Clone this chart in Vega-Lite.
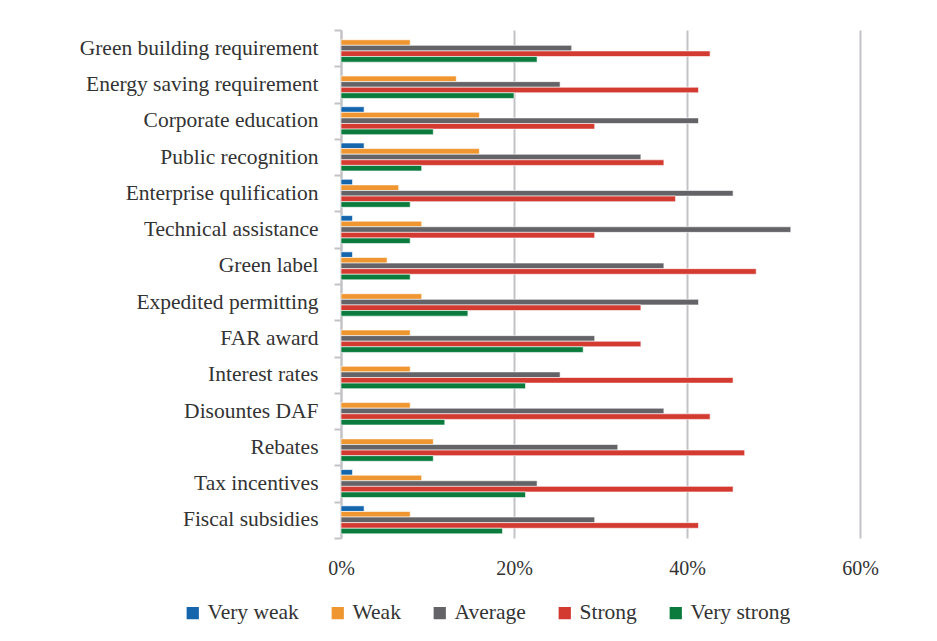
{
  "$schema": "https://vega.github.io/schema/vega-lite/v6.json",
  "autosize": "none",
  "width": 519,
  "height": 508,
  "padding": {"left": 341, "top": 30, "right": 77, "bottom": 103},
  "background": "white",
  "config": {
    "font": "Liberation Serif",
    "view": {"stroke": null},
    "axis": {"labelFont": "Liberation Serif", "labelColor": "#333333", "labelFontSize": 20},
    "legend": {"labelFont": "Liberation Serif", "labelColor": "#333333", "labelFontSize": 21.5}
  },
  "data": {
    "values": [
      {"item": "Green building requirement", "level": "Weak", "value": 8},
      {"item": "Green building requirement", "level": "Average", "value": 26.67},
      {"item": "Green building requirement", "level": "Strong", "value": 42.67},
      {"item": "Green building requirement", "level": "Very strong", "value": 22.67},
      {"item": "Energy saving requirement", "level": "Weak", "value": 13.33},
      {"item": "Energy saving requirement", "level": "Average", "value": 25.33},
      {"item": "Energy saving requirement", "level": "Strong", "value": 41.33},
      {"item": "Energy saving requirement", "level": "Very strong", "value": 20},
      {"item": "Corporate education", "level": "Very weak", "value": 2.67},
      {"item": "Corporate education", "level": "Weak", "value": 16},
      {"item": "Corporate education", "level": "Average", "value": 41.33},
      {"item": "Corporate education", "level": "Strong", "value": 29.33},
      {"item": "Corporate education", "level": "Very strong", "value": 10.67},
      {"item": "Public recognition", "level": "Very weak", "value": 2.67},
      {"item": "Public recognition", "level": "Weak", "value": 16},
      {"item": "Public recognition", "level": "Average", "value": 34.67},
      {"item": "Public recognition", "level": "Strong", "value": 37.33},
      {"item": "Public recognition", "level": "Very strong", "value": 9.33},
      {"item": "Enterprise qulification", "level": "Very weak", "value": 1.33},
      {"item": "Enterprise qulification", "level": "Weak", "value": 6.67},
      {"item": "Enterprise qulification", "level": "Average", "value": 45.33},
      {"item": "Enterprise qulification", "level": "Strong", "value": 38.67},
      {"item": "Enterprise qulification", "level": "Very strong", "value": 8},
      {"item": "Technical assistance", "level": "Very weak", "value": 1.33},
      {"item": "Technical assistance", "level": "Weak", "value": 9.33},
      {"item": "Technical assistance", "level": "Average", "value": 52},
      {"item": "Technical assistance", "level": "Strong", "value": 29.33},
      {"item": "Technical assistance", "level": "Very strong", "value": 8},
      {"item": "Green label", "level": "Very weak", "value": 1.33},
      {"item": "Green label", "level": "Weak", "value": 5.33},
      {"item": "Green label", "level": "Average", "value": 37.33},
      {"item": "Green label", "level": "Strong", "value": 48},
      {"item": "Green label", "level": "Very strong", "value": 8},
      {"item": "Expedited permitting", "level": "Weak", "value": 9.33},
      {"item": "Expedited permitting", "level": "Average", "value": 41.33},
      {"item": "Expedited permitting", "level": "Strong", "value": 34.67},
      {"item": "Expedited permitting", "level": "Very strong", "value": 14.67},
      {"item": "FAR award", "level": "Weak", "value": 8},
      {"item": "FAR award", "level": "Average", "value": 29.33},
      {"item": "FAR award", "level": "Strong", "value": 34.67},
      {"item": "FAR award", "level": "Very strong", "value": 28},
      {"item": "Interest rates", "level": "Weak", "value": 8},
      {"item": "Interest rates", "level": "Average", "value": 25.33},
      {"item": "Interest rates", "level": "Strong", "value": 45.33},
      {"item": "Interest rates", "level": "Very strong", "value": 21.33},
      {"item": "Disountes DAF", "level": "Weak", "value": 8},
      {"item": "Disountes DAF", "level": "Average", "value": 37.33},
      {"item": "Disountes DAF", "level": "Strong", "value": 42.67},
      {"item": "Disountes DAF", "level": "Very strong", "value": 12},
      {"item": "Rebates", "level": "Weak", "value": 10.67},
      {"item": "Rebates", "level": "Average", "value": 32},
      {"item": "Rebates", "level": "Strong", "value": 46.67},
      {"item": "Rebates", "level": "Very strong", "value": 10.67},
      {"item": "Tax incentives", "level": "Very weak", "value": 1.33},
      {"item": "Tax incentives", "level": "Weak", "value": 9.33},
      {"item": "Tax incentives", "level": "Average", "value": 22.67},
      {"item": "Tax incentives", "level": "Strong", "value": 45.33},
      {"item": "Tax incentives", "level": "Very strong", "value": 21.33},
      {"item": "Fiscal subsidies", "level": "Very weak", "value": 2.67},
      {"item": "Fiscal subsidies", "level": "Weak", "value": 8},
      {"item": "Fiscal subsidies", "level": "Average", "value": 29.33},
      {"item": "Fiscal subsidies", "level": "Strong", "value": 41.33},
      {"item": "Fiscal subsidies", "level": "Very strong", "value": 18.67}
    ]
  },
  "mark": {"type": "bar", "stroke": "white", "strokeWidth": 0.6},
  "encoding": {
    "y": {
      "field": "item",
      "type": "nominal",
      "sort": ["Green building requirement", "Energy saving requirement", "Corporate education", "Public recognition", "Enterprise qulification", "Technical assistance", "Green label", "Expedited permitting", "FAR award", "Interest rates", "Disountes DAF", "Rebates", "Tax incentives", "Fiscal subsidies"],
      "scale": {"paddingInner": 0, "paddingOuter": 0},
      "axis": {
        "title": null,
        "domainColor": "#c3c3c7",
        "domainWidth": 2,
        "tickColor": "#c3c3c7",
        "tickWidth": 2,
        "tickSize": 7,
        "tickBand": "extent",
        "labelPadding": 16,
        "labelFontSize": 21.5,
        "labelLimit": 0
      }
    },
    "yOffset": {
      "field": "level",
      "type": "nominal",
      "sort": ["Very weak", "Weak", "Average", "Strong", "Very strong"],
      "scale": {"domain": ["Very weak", "Weak", "Average", "Strong", "Very strong"], "paddingInner": 0, "paddingOuter": 0.74}
    },
    "x": {
      "field": "value",
      "type": "quantitative",
      "scale": {"domain": [0, 60], "nice": false},
      "axis": {
        "title": null,
        "values": [0, 20, 40, 60],
        "labelExpr": "datum.value + '%'",
        "labelFlush": false,
        "domain": false,
        "ticks": false,
        "tickSize": 0,
        "labelPadding": 20,
        "grid": true,
        "gridColor": "#c3c3c7",
        "gridWidth": 2
      }
    },
    "color": {
      "field": "level",
      "type": "nominal",
      "scale": {
        "domain": ["Very weak", "Weak", "Average", "Strong", "Very strong"],
        "range": ["#1565ad", "#ef9630", "#646468", "#d33a30", "#0a7b3d"]
      },
      "legend": {
        "title": null,
        "orient": "none",
        "direction": "horizontal",
        "legendX": -159,
        "legendY": 572,
        "symbolType": "square",
        "symbolSize": 150,
        "symbolStrokeWidth": 0,
        "labelFont": "Liberation Serif",
        "labelFontSize": 21.5,
        "labelColor": "#333333",
        "labelOffset": 4,
        "columnPadding": 28
      }
    }
  }
}
